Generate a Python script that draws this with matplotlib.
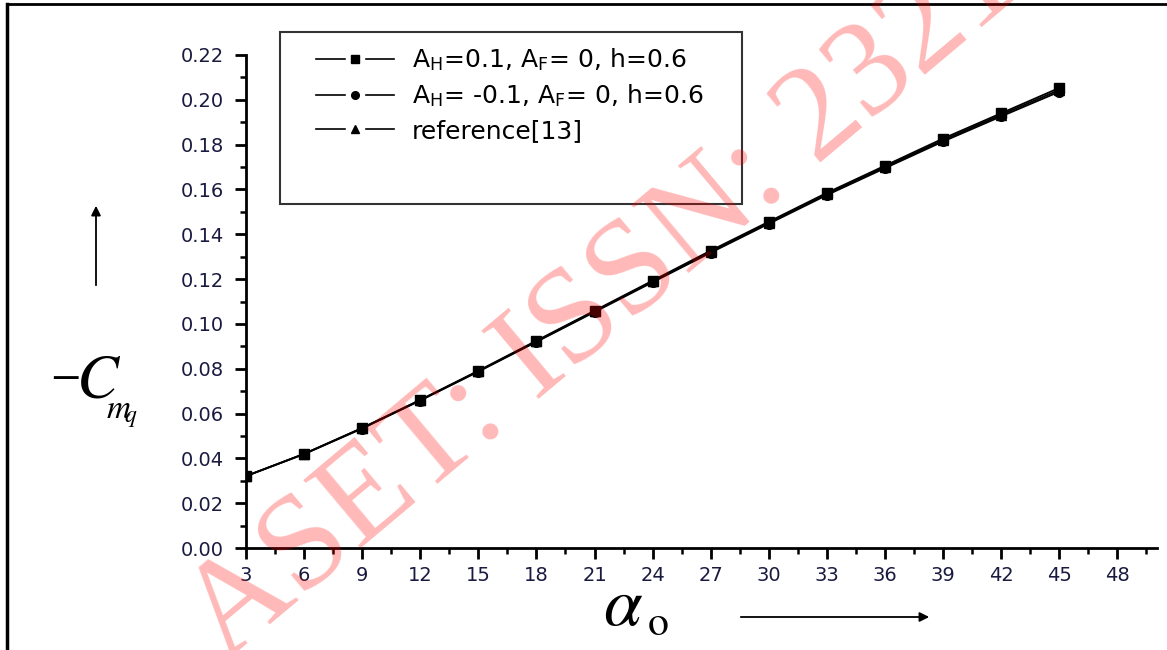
import matplotlib
matplotlib.use("Agg")
import matplotlib.pyplot as plt
from matplotlib.lines import Line2D
from matplotlib.patches import Rectangle, FancyArrowPatch
from matplotlib.ticker import MultipleLocator

# ---- data ----
alpha = [3, 6, 9, 12, 15, 18, 21, 24, 27, 30, 33, 36, 39, 42, 45]
cmq_pos = [0.0321, 0.0420, 0.0536, 0.0661, 0.0791, 0.0925, 0.1059, 0.1193, 0.1327,
           0.1456, 0.1585, 0.1706, 0.1827, 0.1940, 0.2053]
cmq_neg = [0.0321, 0.0419, 0.0533, 0.0658, 0.0787, 0.0920, 0.1053, 0.1186, 0.1318,
           0.1447, 0.1575, 0.1695, 0.1814, 0.1926, 0.2036]
cmq_ref = [0.0321, 0.0420, 0.0535, 0.0660, 0.0789, 0.0922, 0.1056, 0.1190, 0.1322,
           0.1451, 0.1580, 0.1700, 0.1820, 0.1933, 0.2044]
labels = [r"A$_{\mathregular{H}}$=0.1, A$_{\mathregular{F}}$= 0, h=0.6",
          r"A$_{\mathregular{H}}$= -0.1, A$_{\mathregular{F}}$= 0, h=0.6",
          "reference[13]"]
xticks = list(range(3, 49, 3))
yticks = [0.00, 0.02, 0.04, 0.06, 0.08, 0.10, 0.12, 0.14, 0.16, 0.18, 0.20, 0.22]

plt.rcParams['font.family'] = ['DejaVu Sans']
plt.rcParams['mathtext.fontset'] = 'stix'

W, H = 1167, 650
fig = plt.figure(figsize=(W / 100, H / 100), dpi=100)
fig.patch.set_facecolor('white')

def fx(px):
    return px / W

def fy(py):
    return 1 - py / H

ax = fig.add_axes([fx(246), fy(548), fx(1157) - fx(246), fy(55) - fy(548)])

ax.plot(alpha, cmq_ref, color='black', lw=1.3, marker='^', ms=7, zorder=3)
ax.plot(alpha, cmq_neg, color='black', lw=1.3, marker='o', ms=7, zorder=4)
ax.plot(alpha, cmq_pos, color='black', lw=1.3, marker='s', ms=7, zorder=5)

ax.set_xlim(3, 50.05)
ax.set_ylim(0, 0.22)
ax.set_xticks(xticks)
ax.set_yticks(yticks)
ax.set_yticklabels([f"{v:.2f}" for v in yticks])
ax.xaxis.set_minor_locator(MultipleLocator(1.5))
ax.yaxis.set_minor_locator(MultipleLocator(0.01))
for s in ['top', 'right']:
    ax.spines[s].set_visible(False)
for s in ['left', 'bottom']:
    ax.spines[s].set_linewidth(2)
ax.tick_params(which='major', direction='out', length=8, width=2,
               labelsize=14, colors='black', pad=5)
ax.tick_params(which='minor', direction='out', length=4, width=1.8)
ax.tick_params(axis='y', which='major', pad=8)
for lab in ax.get_xticklabels() + ax.get_yticklabels():
    lab.set_color('#1a1a40')

# legend box (taller than entries)
fig.patches.append(Rectangle((fx(280), fy(204)), fx(742) - fx(280), fy(32) - fy(204),
                             transform=fig.transFigure, fill=False,
                             edgecolor='#333333', lw=1.5, zorder=10))
handles = []
for m in ['s', 'o', '^']:
    ln = Line2D([], [], color='black', lw=1.2)
    gap = Line2D([], [], color='white', lw=0, marker='s', ms=13, mec='white')
    mk = Line2D([], [], color='black', lw=0, marker=m, ms=5.5)
    handles.append((ln, gap, mk))
fig.legend(handles, labels, loc='upper left', bbox_to_anchor=(fx(306), fy(37)),
           frameon=False, fontsize=18, handlelength=3.1, handletextpad=0.75,
           labelspacing=0.38, borderaxespad=0)

# axis labels (pieces placed to follow the reference proportions)
fig.text(fx(50), fy(387), r"$-$", fontsize=32, ha='left', va='baseline')
fig.text(fx(76), fy(398), r"$C$", fontsize=45, ha='left', va='baseline')
fig.text(fx(106), fy(418), r"$m$", fontsize=24, ha='left', va='baseline')
fig.text(fx(124), fy(422), r"$q$", fontsize=17, ha='left', va='baseline')
fig.text(fx(603), fy(625), r"$\alpha$", fontsize=50, ha='left', va='baseline')
fig.text(fx(647), fy(635), r"$\mathrm{o}$", fontsize=30, ha='left', va='baseline')

# arrows
fig.patches.append(FancyArrowPatch((fx(96), fy(288)), (fx(96), fy(203)),
                                   transform=fig.transFigure, arrowstyle='-|>',
                                   mutation_scale=14, color='black', lw=1.3))
fig.patches.append(FancyArrowPatch((fx(738), fy(617)), (fx(932), fy(617)),
                                   transform=fig.transFigure, arrowstyle='-|>',
                                   mutation_scale=14, color='black', lw=1.3))

# page border (top and left)
fig.add_artist(Line2D([fx(7), 1], [fy(4), fy(4)], transform=fig.transFigure,
                      color='black', lw=2))
fig.add_artist(Line2D([fx(7), fx(7)], [0, fy(4)], transform=fig.transFigure,
                      color='black', lw=2.5))

# watermark
fig.text(fx(225), fy(662), "ASET: ISSN: 2321", fontsize=98, family='Liberation Serif',
         color='#ff0000', alpha=0.28, rotation=40, rotation_mode='anchor',
         ha='left', va='baseline', zorder=20)

fig.savefig('out.png', dpi=100)
